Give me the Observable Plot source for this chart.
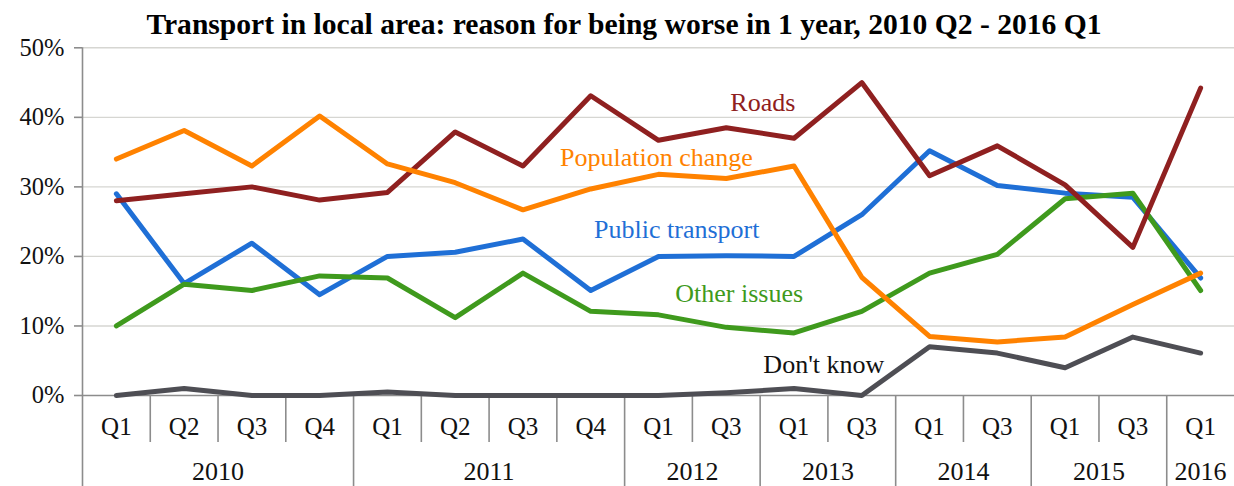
<!DOCTYPE html>
<html>
<head>
<meta charset="utf-8">
<script src="https://cdn.jsdelivr.net/npm/d3@7"></script>
<script src="https://cdn.jsdelivr.net/npm/@observablehq/plot@0.6"></script>
<style>
  body { margin: 0; background: #fff; }
  #wrap { position: relative; width: 1234px; height: 486px; overflow: hidden; }
  #title { position: absolute; top: 8px; left: 7px; width: 1234px; text-align: center;
           font: bold 29.6px "Liberation Serif", "Times New Roman", serif; line-height: normal;
           color: #000; z-index: 2; white-space: nowrap; }
  #chart { position: absolute; top: 0; left: 0; }
</style>
</head>
<body>
<div id="wrap">
  <div id="title">Transport in local area: reason for being worse in 1 year, 2010 Q2 - 2016 Q1</div>
  <div id="chart"></div>
</div>
<script>
// Categories
const years    = ["2010","2010","2010","2010","2011","2011","2011","2011","2012","2012","2013","2013","2014","2014","2015","2015","2016"];
const quarters = ["Q1","Q2","Q3","Q4","Q1","Q2","Q3","Q4","Q1","Q3","Q1","Q3","Q1","Q3","Q1","Q3","Q1"];

// Series values (%)
const roads            = [28.0, 29.0, 30.0, 28.1, 29.2, 37.9, 33.0, 43.1, 36.7, 38.5, 37.0, 45.0, 31.6, 35.9, 30.3, 21.3, 44.2];
const populationChange = [34.0, 38.1, 33.0, 40.2, 33.3, 30.6, 26.7, 29.7, 31.8, 31.2, 33.0, 17.0,  8.5,  7.7,  8.4, 13.1, 17.6];
const publicTransport  = [29.0, 16.1, 21.9, 14.5, 20.0, 20.6, 22.5, 15.1, 20.0, 20.1, 20.0, 26.0, 35.2, 30.2, 29.1, 28.5, 16.9];
const otherIssues      = [10.0, 16.0, 15.1, 17.2, 16.9, 11.2, 17.6, 12.1, 11.6,  9.8,  9.0, 12.1, 17.6, 20.3, 28.3, 29.1, 15.1];
const dontKnow         = [ 0.0,  1.0,  0.0,  0.0,  0.5,  0.0,  0.0,  0.0,  0.0,  0.4,  1.0,  0.0,  7.0,  6.1,  4.0,  8.4,  6.1];

const yTicks = [0, 10, 20, 30, 40, 50];

// Series (drawing order) and colours
const seriesNames  = ["Don't know", "Public transport", "Other issues", "Roads", "Population change"];
const seriesValues = [dontKnow, publicTransport, otherIssues, roads, populationChange];
const seriesColors = ["#4e4e54", "#1f6fd6", "#3f9a1d", "#8f2020", "#ff8200"];
const labelColors  = ["#111111", "#1f6fd6", "#3f9a1d", "#8f2020", "#ff8200"];

// Label anchors in data space (category index, percent)
const labelX = [10.44, 8.27, 9.19, 9.54, 7.97];
const labelY = [4.4, 23.85, 14.6, 42.1, 34.2];

// Build tables
const idx = years.map((_, i) => i);
const rows = [];
seriesNames.forEach((s, k) => seriesValues[k].forEach((v, i) => rows.push({series: s, i, value: v})));

const yearGroups = [];
years.forEach((y, i) => {
  const g = yearGroups[yearGroups.length - 1];
  if (g && g.year === y) g.end = i; else yearGroups.push({year: y, start: i, end: i});
});
const yearSeps = yearGroups.map(g => g.start - 0.5).filter(v => v > -0.5);
const quarterSeps = idx.slice(1).map(i => i - 0.5).filter(v => !yearSeps.includes(v));
const labels = seriesNames.map((s, k) => ({series: s, x: labelX[k], y: labelY[k], color: labelColors[k]}));

const font = "Liberation Serif";
const axisGray = "#8c8c8c";

const chart = Plot.plot({
  width: 1234,
  height: 486,
  marginTop: 47.3,
  marginBottom: 91,
  marginLeft: 82,
  marginRight: 0,
  style: {fontFamily: font, background: "transparent"},
  x: {type: "linear", domain: [-0.5, idx.length - 0.5], axis: null},
  y: {domain: [0, 50], axis: null},
  color: {domain: seriesNames, range: seriesColors},
  marks: [
    Plot.ruleY(yTicks.filter(d => d > 0), {stroke: "#d6d6d2", strokeWidth: 1.4}),
    Plot.ruleY([0], {stroke: axisGray, strokeWidth: 1.6}),
    Plot.axisY({ticks: yTicks, tickFormat: d => d + "%", tickSize: 8, tickPadding: 10,
                fontSize: 24.5, stroke: axisGray, strokeWidth: 1.6, fill: "#111", label: null}),
    // left axis line (extends into the category area)
    Plot.ruleX([-0.5], {stroke: axisGray, strokeWidth: 1.6, insetBottom: -91}),
    // quarter separators
    Plot.ruleX(quarterSeps, {x: d => d, y1: () => 0, y2: () => 0, insetBottom: -47, stroke: axisGray, strokeWidth: 1.6}),
    // year separators
    Plot.ruleX(yearSeps, {x: d => d, y1: () => 0, y2: () => 0, insetBottom: -91, stroke: axisGray, strokeWidth: 1.6}),
    // quarter labels
    Plot.text(idx, {x: d => d, y: () => 0, text: d => quarters[d], dy: 31, fontSize: 25, fill: "#111"}),
    // year labels
    Plot.text(yearGroups, {x: d => (d.start + d.end) / 2, y: () => 0, text: "year", dy: 76, fontSize: 26, fill: "#111"}),
    // series lines
    ...seriesNames.map(s => Plot.line(rows.filter(r => r.series === s), {
      x: "i", y: "value", stroke: "series", strokeWidth: 5, strokeLinejoin: "round", strokeLinecap: "round"
    })),
    // series labels
    Plot.text(labels, {x: "x", y: "y", text: "series", fill: "color", fontSize: 26})
  ]
});
document.getElementById("chart").appendChild(chart);
</script>
</body>
</html>
